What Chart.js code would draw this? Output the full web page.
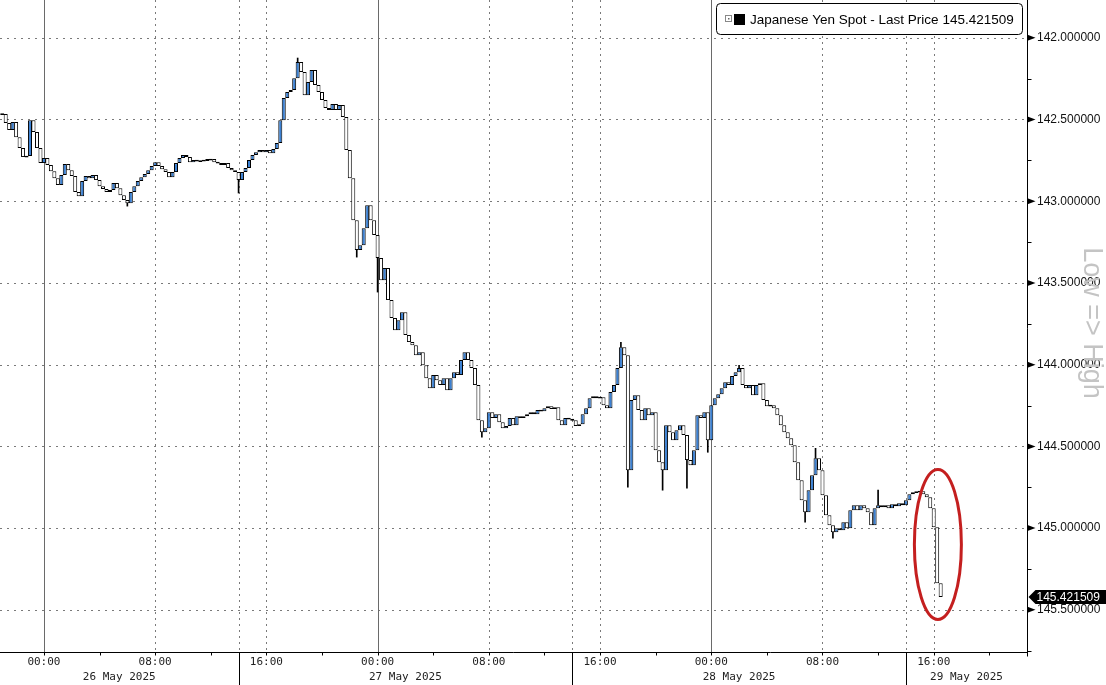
<!DOCTYPE html>
<html>
<head>
<meta charset="utf-8">
<script src="https://cdn.jsdelivr.net/npm/chart.js@4.4.1/dist/chart.umd.min.js"></script>
<style>
  html, body { margin: 0; padding: 0; background: #fff; }
  #wrap { width: 1106px; height: 685px; }
</style>
</head>
<body>
<div id="wrap"><canvas id="yenChart" width="1106" height="685"></canvas></div>
<script>
// Japanese Yen Spot, 15 minute bars. Hours are counted from 00:00 on 26 May.
const firstBarHour = -3;
const barHours = 0.25;

const closes = [
  142.467, 142.522, 142.565, 142.516, 142.608, 142.675, 142.730, 142.724, 142.504, 142.577,
  142.675, 142.767, 142.736, 142.779, 142.816, 142.859, 142.901, 142.840, 142.773, 142.810,
  142.846, 142.944, 142.969, 142.877, 142.846, 142.859, 142.840, 142.871, 142.908, 142.926,
  142.944, 142.932, 142.889, 142.920, 142.963, 142.993, 143.012, 142.944, 142.908, 142.877,
  142.853, 142.834, 142.810, 142.785, 142.761, 142.785, 142.804, 142.822, 142.853, 142.822,
  142.767, 142.736, 142.718, 142.730, 142.761, 142.748, 142.755, 142.755, 142.748, 142.748,
  142.742, 142.761, 142.767, 142.779, 142.767, 142.797, 142.810, 142.822, 142.871, 142.822,
  142.797, 142.748, 142.718, 142.700, 142.687, 142.700, 142.687, 142.706, 142.681, 142.644,
  142.504, 142.369, 142.332, 142.320, 142.247, 142.149, 142.210, 142.351, 142.271, 142.198,
  142.289, 142.332, 142.381, 142.430, 142.442, 142.406, 142.442, 142.412, 142.485, 142.687,
  142.859, 143.116, 143.299, 143.269, 143.165, 143.024, 143.116, 143.207, 143.348, 143.483,
  143.409, 143.605, 143.715, 143.789, 143.728, 143.679, 143.819, 143.862, 143.881, 143.942,
  143.924, 144.003, 144.083, 144.144, 144.064, 144.095, 144.125, 144.083, 144.156, 144.083,
  144.046, 144.064, 143.972, 143.924, 143.972, 144.021, 144.125, 144.340, 144.413, 144.389,
  144.291, 144.327, 144.303, 144.352, 144.389, 144.376, 144.327, 144.370, 144.315, 144.327,
  144.315, 144.303, 144.291, 144.303, 144.278, 144.285, 144.266, 144.254, 144.272, 144.260,
  144.340, 144.370, 144.327, 144.334, 144.340, 144.376, 144.364, 144.303, 144.266, 144.205,
  144.193, 144.205, 144.199, 144.248, 144.266, 144.168, 144.125, 144.021, 143.893, 143.942,
  144.646, 144.217, 144.187, 144.278, 144.340, 144.266, 144.309, 144.291, 144.523, 144.597,
  144.646, 144.370, 144.413, 144.462, 144.401, 144.370, 144.431, 144.584, 144.615, 144.523,
  144.309, 144.327, 144.291, 144.462, 144.248, 144.205, 144.181, 144.144, 144.107, 144.125,
  144.070, 144.046, 144.021, 144.125, 144.144, 144.125, 144.187, 144.125, 144.113, 144.217,
  144.254, 144.248, 144.266, 144.309, 144.370, 144.413, 144.450, 144.493, 144.597, 144.707,
  144.829, 144.903, 144.768, 144.676, 144.572, 144.646, 144.799, 144.921, 144.982, 145.025,
  145.001, 145.013, 144.964, 145.001, 144.890, 144.860, 144.890, 144.860, 144.878, 144.903,
  144.982, 144.878, 144.860, 144.872, 144.860, 144.878, 144.854, 144.866, 144.848, 144.860,
  144.829, 144.793, 144.780, 144.780, 144.774, 144.793, 144.811, 144.878, 144.995, 145.337,
  145.421509
];

// bars whose wick pokes well out of the body
const wickBars = [36, 68, 85, 102, 108, 138, 178, 180, 190, 197, 203, 212, 231, 234, 239, 252];
const wickPrices = [143.030, 142.950, 142.124, 143.342, 143.556, 144.444, 143.863, 144.750,
  144.768, 144.756, 144.536, 144.004, 144.964, 144.512, 145.062, 144.768];

const lastPrice = 145.421509;
const seriesName = 'Japanese Yen Spot - Last Price';

const priceTicks = [142, 142.5, 143, 143.5, 144, 144.5, 145, 145.5];
const minorPriceTicks = [142.25, 142.75, 143.25, 143.75, 144.25, 144.75, 145.25, 145.75];
const timeTicks = [0, 8, 16, 24, 32, 40, 48, 56, 64];
const smallTimeTicks = [0, 4, 8, 12, 16, 20, 24, 28, 32, 36, 40, 44, 48, 52, 56, 60, 64, 68];
const sessionBreaks = [14, 38, 62];
const dayLabels = ['26 May 2025', '27 May 2025', '28 May 2025', '29 May 2025'];

const xMin = -3.16, xMax = 70.71;
const yMin = 141.769, yMax = 145.758;

const bodies = closes.map((c, i) => {
  const o = i === 0 ? c : closes[i - 1];
  let lo = Math.min(o, c), hi = Math.max(o, c);
  if (hi - lo < 0.011) {
    const m = (lo + hi) / 2;
    lo = m - 0.0055;
    hi = m + 0.0055;
  }
  return { x: firstBarHour + i * barHours, y: [lo, hi] };
});
const bodyFill = closes.map((c, i) => (i > 0 && c < closes[i - 1]) ? '#3b80d2' : '#ffffff');

const wicks = wickBars.map((k, j) => ({ x: firstBarHour + k * barHours, y: [wickPrices[j], closes[k]] }));

function hhmm(v) {
  const h = ((v % 24) + 24) % 24;
  return String(h).padStart(2, '0') + ':00';
}

function noEdgePadding(s) {
  s.paddingTop = 0;
  s.paddingBottom = 0;
  s.paddingLeft = 0;
  s.paddingRight = 0;
}

const decorations = {
  id: 'decorations',
  beforeDatasetsDraw(chart) {
    const { ctx, chartArea: a, scales: { x, y } } = chart;
    ctx.save();
    ctx.lineWidth = 1;
    // horizontal dotted grid
    ctx.strokeStyle = '#7a7a7a';
    ctx.setLineDash([2, 5]);
    priceTicks.forEach(v => {
      const py = Math.round(y.getPixelForValue(v)) + 0.5;
      ctx.beginPath(); ctx.moveTo(a.left, py); ctx.lineTo(a.right, py); ctx.stroke();
    });
    // vertical grid: dotted for 08:00 / 16:00 and session breaks, solid for midnight
    timeTicks.concat(sessionBreaks).forEach(v => {
      const px = Math.round(x.getPixelForValue(v)) + 0.5;
      const midnight = v % 24 === 0;
      ctx.setLineDash(midnight ? [] : [2, 4]);
      ctx.strokeStyle = midnight ? '#6a6a6a' : '#7a7a7a';
      ctx.beginPath(); ctx.moveTo(px, a.top); ctx.lineTo(px, a.bottom); ctx.stroke();
    });
    ctx.restore();
  },
  afterDatasetsDraw(chart) {
    const { ctx, chartArea: a, scales: { x, y } } = chart;
    ctx.save();
    ctx.setLineDash([]);
    ctx.strokeStyle = '#000';
    ctx.fillStyle = '#000';
    ctx.lineWidth = 1;

    // axis lines
    const by = Math.round(a.bottom) + 0.5;
    const rx = Math.round(a.right) + 0.5;
    ctx.beginPath(); ctx.moveTo(a.left, by); ctx.lineTo(rx, by); ctx.stroke();
    ctx.beginPath(); ctx.moveTo(rx, a.top); ctx.lineTo(rx, by + 4); ctx.stroke();

    // time tick marks and session separators below the axis
    smallTimeTicks.forEach(v => {
      const px = Math.round(x.getPixelForValue(v)) + 0.5;
      ctx.beginPath(); ctx.moveTo(px, by); ctx.lineTo(px, by + 3); ctx.stroke();
    });
    sessionBreaks.forEach(v => {
      const px = Math.round(x.getPixelForValue(v)) + 0.5;
      ctx.beginPath(); ctx.moveTo(px, by); ctx.lineTo(px, chart.height); ctx.stroke();
    });

    // day labels centred between session separators
    const bounds = [xMin].concat(sessionBreaks, [xMax]);
    ctx.font = '11px "DejaVu Sans Mono"';
    ctx.fillStyle = '#222';
    ctx.textAlign = 'center';
    ctx.textBaseline = 'middle';
    dayLabels.forEach((d, i) => {
      const cx = (x.getPixelForValue(bounds[i]) + x.getPixelForValue(bounds[i + 1])) / 2;
      ctx.fillText(d, cx, 677);
    });

    // price axis arrowheads and minor ticks
    ctx.fillStyle = '#000';
    priceTicks.forEach(v => {
      const py = y.getPixelForValue(v);
      ctx.beginPath();
      ctx.moveTo(rx, py - 3); ctx.lineTo(rx + 8, py); ctx.lineTo(rx, py + 3);
      ctx.closePath(); ctx.fill();
    });
    minorPriceTicks.forEach(v => {
      const py = Math.round(y.getPixelForValue(v)) + 0.5;
      ctx.beginPath(); ctx.moveTo(rx, py); ctx.lineTo(rx + 4, py); ctx.stroke();
    });

    // last price tag
    const ly = y.getPixelForValue(lastPrice);
    ctx.beginPath();
    ctx.moveTo(rx + 1, ly);
    ctx.lineTo(rx + 8, ly - 7);
    ctx.lineTo(chart.width, ly - 7);
    ctx.lineTo(chart.width, ly + 7);
    ctx.lineTo(rx + 8, ly + 7);
    ctx.closePath();
    ctx.fill();
    ctx.fillStyle = '#fff';
    ctx.font = '12px "Liberation Sans"';
    ctx.textAlign = 'left';
    ctx.fillText(lastPrice.toFixed(6), rx + 9, ly + 0.5);

    // red ellipse round the final drop
    const ex = x.getPixelForValue(64.3);
    const ey = y.getPixelForValue(145.1);
    ctx.strokeStyle = '#c41f1f';
    ctx.lineWidth = 3;
    ctx.beginPath();
    ctx.ellipse(ex, ey, 23.5, 75, 0, 0, Math.PI * 2);
    ctx.stroke();

    // legend box
    ctx.lineWidth = 1;
    ctx.strokeStyle = '#000';
    ctx.fillStyle = '#fff';
    ctx.beginPath();
    ctx.roundRect(716.5, 3.5, 306, 31, 4);
    ctx.fill(); ctx.stroke();
    ctx.strokeStyle = '#888';
    ctx.strokeRect(725.5, 15.5, 6, 6);
    ctx.fillStyle = '#666';
    ctx.fillRect(728, 18, 1.5, 1.5);
    ctx.fillStyle = '#000';
    ctx.fillRect(734, 14, 11, 11);
    ctx.font = '13.5px "Liberation Sans"';
    ctx.textAlign = 'left';
    ctx.textBaseline = 'middle';
    ctx.fillText(seriesName + ' ' + lastPrice.toFixed(6), 750, 20);

    // axis direction note
    ctx.translate(1091, 323);
    ctx.rotate(Math.PI / 2);
    ctx.font = '27px "Liberation Sans"';
    ctx.fillStyle = '#c4c4c4';
    ctx.textAlign = 'center';
    ctx.fillText('Low => High', 0, 0);
    ctx.restore();
  }
};

new Chart(document.getElementById('yenChart'), {
  type: 'bar',
  data: {
    datasets: [
      {
        label: seriesName,
        data: bodies,
        backgroundColor: bodyFill,
        borderColor: '#000',
        borderWidth: 1,
        borderSkipped: false,
        grouped: false,
        barPercentage: 1.15,
        categoryPercentage: 1,
        order: 1
      },
      {
        label: 'wicks',
        data: wicks,
        backgroundColor: '#000',
        borderWidth: 0,
        grouped: false,
        barThickness: 1,
        order: 2
      }
    ]
  },
  options: {
    responsive: false,
    animation: false,
    layout: { padding: 0 },
    plugins: { legend: { display: false }, tooltip: { enabled: false } },
    scales: {
      x: {
        type: 'linear',
        offset: false,
        min: xMin,
        max: xMax,
        grid: { display: false, drawTicks: false, offset: false },
        border: { display: false },
        afterBuildTicks: s => { s.ticks = timeTicks.map(v => ({ value: v })); },
        afterFit: s => { s.height = 33; noEdgePadding(s); },
        ticks: {
          autoSkip: false,
          maxRotation: 0,
          padding: 4,
          color: '#222',
          font: { family: 'DejaVu Sans Mono', size: 11 },
          callback: v => hhmm(v)
        }
      },
      y: {
        type: 'linear',
        position: 'right',
        reverse: true,
        min: yMin,
        max: yMax,
        grid: { display: false, drawTicks: false },
        border: { display: false },
        afterBuildTicks: s => { s.ticks = priceTicks.map(v => ({ value: v })); },
        afterFit: s => { s.width = 79; noEdgePadding(s); },
        ticks: {
          padding: 10,
          color: '#111',
          font: { family: 'Liberation Sans', size: 12 },
          callback: v => Number(v).toFixed(6)
        }
      }
    }
  },
  plugins: [decorations]
});
</script>
</body>
</html>
